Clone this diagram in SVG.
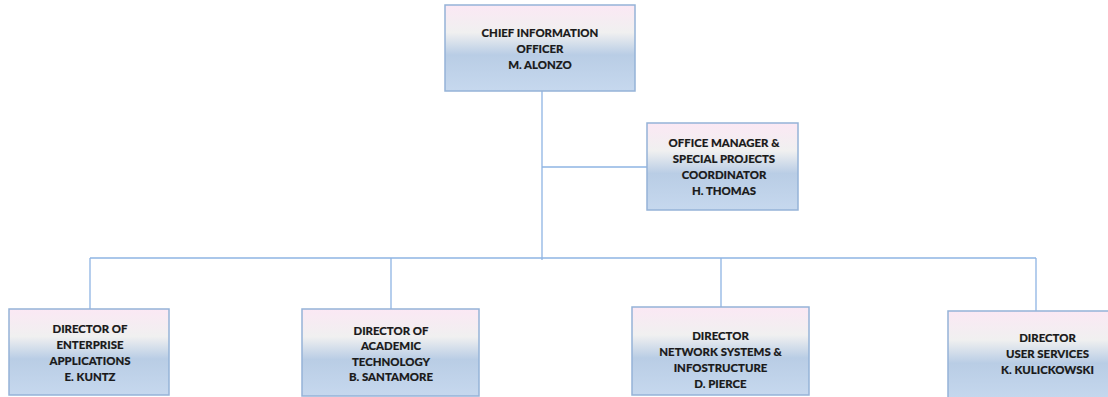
<svg xmlns="http://www.w3.org/2000/svg" width="1108" height="397" viewBox="0 0 1108 397">
<defs>
<linearGradient id="g" x1="0" y1="0" x2="0" y2="1">
<stop offset="0" stop-color="#fbe8f4"/>
<stop offset="0.32" stop-color="#f0f0f0"/>
<stop offset="0.58" stop-color="#b9cde5"/>
<stop offset="1" stop-color="#c6d8ee"/>
</linearGradient>
<style>
.box{fill:url(#g);stroke:#95b3d7;stroke-width:1.5}
.t{font-family:Lato,"Liberation Sans",sans-serif;font-weight:900;font-size:11.4px;fill:#1a1a1a;stroke:#1a1a1a;stroke-width:0.15;text-anchor:middle}
.c{stroke:#8eb4e3;stroke-width:1.3;fill:none}
</style>
</defs>
<rect width="1108" height="397" fill="#ffffff"/>
<g id="connectors">
<line class="c" x1="542" y1="91" x2="542" y2="260"/>
<line class="c" x1="542" y1="167" x2="647" y2="167"/>
<line class="c" x1="90" y1="258" x2="1036" y2="258"/>
<line class="c" x1="90" y1="258" x2="90" y2="309"/>
<line class="c" x1="391" y1="258" x2="391" y2="309"/>
<line class="c" x1="721" y1="258" x2="721" y2="307"/>
<line class="c" x1="1036" y1="258" x2="1036" y2="311"/>
</g>
<g id="cio">
<rect class="box" x="445" y="5" width="190" height="86"/>
<text class="t" x="540" y="37">CHIEF INFORMATION</text>
<text class="t" x="540" y="53">OFFICER</text>
<text class="t" x="540" y="69">M. ALONZO</text>
</g>
<g id="office-manager">
<rect class="box" x="647" y="123" width="151" height="87"/>
<text class="t" x="724" y="147">OFFICE MANAGER &amp;</text>
<text class="t" x="724" y="163">SPECIAL PROJECTS</text>
<text class="t" x="724" y="178.5">COORDINATOR</text>
<text class="t" x="724" y="194.5">H. THOMAS</text>
</g>
<g id="enterprise">
<rect class="box" x="9" y="309" width="160" height="86"/>
<text class="t" x="90" y="333">DIRECTOR OF</text>
<text class="t" x="90" y="349">ENTERPRISE</text>
<text class="t" x="90" y="365">APPLICATIONS</text>
<text class="t" x="90" y="380.5">E. KUNTZ</text>
</g>
<g id="academic">
<rect class="box" x="302" y="309" width="177" height="87"/>
<text class="t" x="391" y="334.5">DIRECTOR OF</text>
<text class="t" x="391" y="350">ACADEMIC</text>
<text class="t" x="391" y="365.5">TECHNOLOGY</text>
<text class="t" x="391" y="381">B. SANTAMORE</text>
</g>
<g id="network">
<rect class="box" x="632" y="307" width="177" height="88"/>
<text class="t" x="720.5" y="340">DIRECTOR</text>
<text class="t" x="720.5" y="356">NETWORK SYSTEMS &amp;</text>
<text class="t" x="720.5" y="372">INFOSTRUCTURE</text>
<text class="t" x="720.5" y="388">D. PIERCE</text>
</g>
<g id="user-services">
<rect class="box" x="948" y="311" width="200" height="90"/>
<text class="t" x="1047.5" y="342">DIRECTOR</text>
<text class="t" x="1047.5" y="358">USER SERVICES</text>
<text class="t" x="1047.5" y="374">K. KULICKOWSKI</text>
</g>
</svg>
